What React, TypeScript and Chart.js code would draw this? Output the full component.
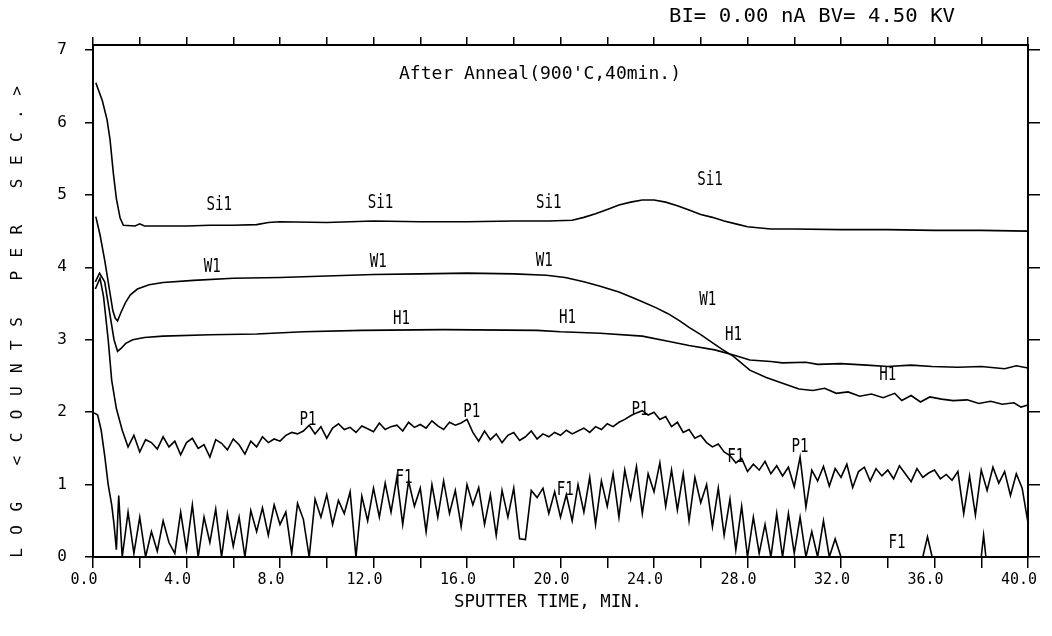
import React, { useEffect, useRef } from 'react';
import { Chart, registerables } from 'chart.js';

Chart.register(...registerables);

// ---------- data (sputter time in min, log counts per second) ----------
const siTime = [0.12, 0.4, 0.6, 0.73, 0.87, 1.0, 1.16, 1.3, 1.8, 2.0, 2.2, 3, 4, 5, 6, 7, 7.5, 8, 10, 12, 14, 16, 18, 19.5, 20.5, 21, 21.5, 22, 22.5, 23, 23.5, 24, 24.5, 25, 25.5, 26, 26.5, 27, 27.5, 28, 29, 30, 32, 34, 36, 38, 40];
const siValues = [6.55, 6.3, 6.04, 5.76, 5.3, 4.95, 4.68, 4.58, 4.57, 4.6, 4.57, 4.57, 4.57, 4.58, 4.58, 4.59, 4.62, 4.63, 4.62, 4.64, 4.63, 4.63, 4.64, 4.64, 4.65, 4.69, 4.74, 4.8, 4.86, 4.9, 4.93, 4.93, 4.9, 4.85, 4.79, 4.73, 4.69, 4.64, 4.6, 4.56, 4.53, 4.53, 4.52, 4.52, 4.51, 4.51, 4.5];

const wTime = [0.12, 0.3, 0.5, 0.7, 0.85, 0.95, 1.05, 1.2, 1.4, 1.6, 1.9, 2.4, 3, 4.3, 6, 8, 10, 12, 14, 16, 18, 19.4, 20.2, 21, 21.7, 22.5, 23.1, 23.6, 24.1, 24.6, 25.1, 25.5, 26, 26.4, 26.9, 27.4, 28.1, 28.8, 29.5, 30.2, 30.8, 31.3, 31.8, 32.3, 32.8, 33.3, 33.8, 34.3, 34.6, 35.0, 35.4, 35.8, 36.3, 36.8, 37.4, 37.9, 38.4, 38.9, 39.4, 39.7, 40];
const wValues = [4.7, 4.45, 4.1, 3.7, 3.4, 3.3, 3.26, 3.38, 3.52, 3.62, 3.7, 3.76, 3.79, 3.82, 3.85, 3.86, 3.88, 3.9, 3.91, 3.92, 3.91, 3.89, 3.86, 3.8, 3.74, 3.66, 3.58, 3.51, 3.44, 3.36, 3.26, 3.17, 3.07, 2.98, 2.87, 2.77, 2.58, 2.48, 2.4, 2.32, 2.3, 2.33, 2.26, 2.28, 2.22, 2.25, 2.2, 2.26, 2.16, 2.23, 2.14, 2.21, 2.18, 2.16, 2.17, 2.12, 2.15, 2.11, 2.13, 2.07, 2.1];

const hTime = [0.1, 0.28, 0.5, 0.7, 0.9, 1.05, 1.2, 1.4, 1.7, 2.2, 3, 5, 7, 9, 11.5, 15, 19, 20, 21.7, 23.5, 24.6, 25.5, 26.6, 27.4, 28.1, 29, 29.5, 30.5, 31, 32, 33.1, 34, 35, 35.9, 37, 38, 39, 39.5, 40];
const hValues = [3.8, 3.92, 3.8, 3.4, 3.0, 2.84, 2.88, 2.95, 3.0, 3.03, 3.05, 3.07, 3.08, 3.11, 3.13, 3.14, 3.13, 3.11, 3.09, 3.05, 2.98, 2.92, 2.86, 2.79, 2.72, 2.7, 2.68, 2.69, 2.66, 2.67, 2.65, 2.63, 2.65, 2.63, 2.62, 2.63, 2.6, 2.64, 2.61];

// P1: surface part, then a regular 0.25 min sampling from 1.25 min
const pEarlyTime = [0.1, 0.3, 0.45, 0.65, 0.8, 1.0];
const pEarlyValues = [3.7, 3.85, 3.6, 3.0, 2.44, 2.05];
const pStart = 1.25;
const pStep = 0.25;
const pValues = [
  1.75, 1.52, 1.68,
  1.45, 1.62, 1.58, 1.49,
  1.66, 1.52, 1.6, 1.41,
  1.58, 1.64, 1.5, 1.55,
  1.38, 1.62, 1.57, 1.48,
  1.63, 1.55, 1.42, 1.6,
  1.52, 1.66, 1.58, 1.63,
  1.6, 1.68, 1.72, 1.7,
  1.74, 1.82, 1.7, 1.8,
  1.64, 1.78, 1.84, 1.76,
  1.79, 1.72, 1.81, 1.77,
  1.73, 1.85, 1.76, 1.8,
  1.82, 1.74, 1.86, 1.79,
  1.83, 1.78, 1.88, 1.81,
  1.76, 1.86, 1.82, 1.85,
  1.9, 1.72, 1.6, 1.74,
  1.62, 1.7, 1.58, 1.68,
  1.72, 1.61, 1.66, 1.74,
  1.63, 1.7, 1.66, 1.72,
  1.68, 1.75, 1.7, 1.74,
  1.78, 1.72, 1.8, 1.76,
  1.84, 1.8, 1.86, 1.9,
  1.95, 1.99, 2.02, 1.96,
  2.0, 1.9, 1.94, 1.8,
  1.86, 1.72, 1.76, 1.64,
  1.68, 1.58, 1.52, 1.56,
  1.45, 1.4, 1.3, 1.36,
  1.18, 1.28, 1.2, 1.32,
  1.15, 1.26, 1.12, 1.24,
  0.97, 1.38, 0.69, 1.2,
  1.05, 1.25, 0.98, 1.22,
  1.1, 1.28, 0.96, 1.18,
  1.24, 1.05, 1.22, 1.12,
  1.2, 1.08, 1.26, 1.15,
  1.04, 1.22, 1.1, 1.16,
  1.2, 1.08, 1.14, 1.06,
  1.18, 0.6, 1.12, 0.58,
  1.2, 0.92, 1.24, 1.02,
  1.18, 0.85, 1.15, 0.95,
  0.47,
];

// F1: surface part, 0.25 min sampling from 1.25 to 32 min, then sparse tail
const fEarlyTime = [0.05, 0.2, 0.35, 0.5, 0.65, 0.8, 0.9, 1.0, 1.1];
const fEarlyValues = [1.99, 1.96, 1.75, 1.4, 1.0, 0.72, 0.45, 0.1, 0.85];
const fStart = 1.25;
const fStep = 0.25;
const fValues = [
  0.0, 0.62, 0.05,
  0.55, 0.0, 0.35, 0.08,
  0.5, 0.2, 0.05, 0.62,
  0.1, 0.72, 0.0, 0.55,
  0.2, 0.66, 0.0, 0.6,
  0.15, 0.55, 0.0, 0.64,
  0.35, 0.68, 0.3, 0.72,
  0.45, 0.62, 0.05, 0.74,
  0.52, 0.0, 0.8, 0.55,
  0.86, 0.45, 0.78, 0.6,
  0.9, 0.0, 0.84, 0.5,
  0.95, 0.55, 1.02, 0.62,
  1.1, 0.45, 1.05, 0.7,
  0.95, 0.35, 1.0, 0.55,
  1.05, 0.6, 0.92, 0.42,
  1.0, 0.72, 0.96, 0.45,
  0.86, 0.3, 0.92, 0.55,
  0.95, 0.25, 0.24, 0.92,
  0.82, 0.95, 0.6, 0.9,
  0.55, 0.86, 0.5, 1.0,
  0.62, 1.1, 0.45, 1.05,
  0.7, 1.15, 0.55, 1.2,
  0.8, 1.25, 0.6, 1.15,
  0.9, 1.3, 0.7, 1.2,
  0.65, 1.15, 0.5, 1.1,
  0.75, 1.0, 0.42, 0.95,
  0.3, 0.8, 0.1, 0.7,
  0.0, 0.55, 0.05, 0.45,
  0.0, 0.6, 0.0, 0.6,
  0.05, 0.55, 0.0, 0.35,
  0.0, 0.5, 0.0, 0.25,
  0.0,
];
const fTailTime = [35.5, 35.7, 35.9, 38.0, 38.1, 38.2, 40];
const fTailValues = [0.0, 0.28, 0.0, 0.0, 0.3, 0.0, 0.0];

const curveLabels = [
  { text: 'Si1', t: 5.4, v: 4.86 }, { text: 'Si1', t: 12.3, v: 4.89 }, { text: 'Si1', t: 19.5, v: 4.89 }, { text: 'Si1', t: 26.4, v: 5.2 },
  { text: 'W1', t: 5.1, v: 4.0 }, { text: 'W1', t: 12.2, v: 4.07 }, { text: 'W1', t: 19.3, v: 4.09 }, { text: 'W1', t: 26.3, v: 3.55 },
  { text: 'H1', t: 13.2, v: 3.28 }, { text: 'H1', t: 20.3, v: 3.3 }, { text: 'H1', t: 27.4, v: 3.07 }, { text: 'H1', t: 34.0, v: 2.51 },
  { text: 'P1', t: 9.2, v: 1.89 }, { text: 'P1', t: 16.2, v: 2.0 }, { text: 'P1', t: 23.4, v: 2.03 }, { text: 'P1', t: 30.25, v: 1.52 },
  { text: 'F1', t: 13.3, v: 1.09 }, { text: 'F1', t: 20.2, v: 0.93 }, { text: 'F1', t: 27.5, v: 1.38 }, { text: 'F1', t: 34.4, v: 0.19 },
];

const headerText = 'BI= 0.00 nA BV= 4.50 KV';
const noteText = "After Anneal(900'C,40min.)";
const xTitle = 'SPUTTER TIME, MIN.';
const yTitle = 'LOG <COUNTS PER SEC.>';

const FONT = "'DejaVu Sans Mono', 'Liberation Mono', monospace";

function pairs(times: number[], values: number[]) {
  return values.map((v, i) => ({ x: times[i], y: v }));
}
function gridPairs(start: number, step: number, values: number[]) {
  return values.map((v, i) => ({ x: start + i * step, y: v }));
}

function drawFitted(ctx: CanvasRenderingContext2D, text: string, cx: number, cy: number, width: number, size: number) {
  ctx.save();
  ctx.font = `${size}px ${FONT}`;
  const w = ctx.measureText(text).width;
  ctx.translate(cx, cy);
  ctx.scale(width / w, 1);
  ctx.textAlign = 'center';
  ctx.textBaseline = 'middle';
  ctx.fillStyle = '#000';
  ctx.fillText(text, 0, 0);
  ctx.restore();
}

const textPlugin = {
  id: 'plotterText',
  afterDraw(chart: any) {
    const ctx = chart.ctx as CanvasRenderingContext2D;
    const xs = chart.scales.x;
    const ys = chart.scales.y;
    drawFitted(ctx, headerText, 812, 17, 286, 20);
    drawFitted(ctx, noteText, 540, 74, 282, 18);
    drawFitted(ctx, xTitle, 548, 603, 188, 17);
    // rotated y title with wide letter spacing
    ctx.save();
    ctx.translate(18, 322);
    ctx.rotate(-Math.PI / 2);
    ctx.font = `16px ${FONT}`;
    ctx.textAlign = 'center';
    ctx.textBaseline = 'middle';
    ctx.fillStyle = '#000';
    const len = 462;
    const n = yTitle.length;
    for (let i = 0; i < n; i++) {
      const px = -len / 2 + (len * i) / (n - 1);
      ctx.fillText(yTitle[i], px, 0);
    }
    ctx.restore();
    for (const l of curveLabels) {
      const px = xs.getPixelForValue(l.t);
      const py = ys.getPixelForValue(l.v);
      drawFitted(ctx, l.text, px, py, l.text.length * 8.5, 19);
    }
  },
};

export default function App() {
  const ref = useRef<HTMLCanvasElement | null>(null);
  useEffect(() => {
    if (!ref.current) return;
    const lineStyle = { borderColor: '#000', borderWidth: 1.6, pointRadius: 0, showLine: true, tension: 0, fill: false };
    const chart = new Chart(ref.current, {
      type: 'scatter',
      data: {
        datasets: [
          { label: 'Si1', data: pairs(siTime, siValues), ...lineStyle },
          { label: 'W1', data: pairs(wTime, wValues), ...lineStyle },
          { label: 'H1', data: pairs(hTime, hValues), ...lineStyle },
          { label: 'P1', data: [...pairs(pEarlyTime, pEarlyValues), ...gridPairs(pStart, pStep, pValues)], ...lineStyle },
          { label: 'F1', data: [...pairs(fEarlyTime, fEarlyValues), ...gridPairs(fStart, fStep, fValues), ...pairs(fTailTime, fTailValues)], ...lineStyle },
        ],
      },
      options: {
        animation: false,
        responsive: false,
        devicePixelRatio: 1,
        events: [],
        layout: { padding: 0 },
        plugins: { legend: { display: false }, tooltip: { enabled: false } },
        scales: {
          x: {
            type: 'linear', position: 'bottom', min: 0, max: 40,
            afterFit: (s: any) => { s.height = 79; },
            ticks: {
              stepSize: 2, color: '#000', padding: 3, labelOffset: -9, maxRotation: 0, autoSkip: false,
              font: { family: FONT, size: 15 },
              callback: (v: any) => (Number(v) % 4 === 0 ? Number(v).toFixed(1) : ''),
            },
            grid: { drawOnChartArea: false, drawTicks: true, tickLength: 11, color: '#000', lineWidth: 1.5 },
            border: { display: true, color: '#000', width: 2 },
          },
          x2: {
            type: 'linear', position: 'top', min: 0, max: 40,
            afterFit: (s: any) => { s.height = 45; },
            ticks: { stepSize: 2, autoSkip: false, callback: () => '', font: { size: 1 } },
            grid: { drawOnChartArea: false, drawTicks: true, tickLength: 8, color: '#000', lineWidth: 1.5 },
            border: { display: true, color: '#000', width: 2 },
          },
          y: {
            type: 'linear', position: 'left', min: 0, max: 7.07,
            afterFit: (s: any) => { s.width = 93; },
            ticks: {
              stepSize: 1, includeBounds: false, color: '#000', padding: 18,
              font: { family: FONT, size: 16 },
              callback: (v: any) => String(v),
            },
            grid: { drawOnChartArea: false, drawTicks: true, tickLength: 8, color: '#000', lineWidth: 1.5 },
            border: { display: true, color: '#000', width: 2 },
          },
          y2: {
            type: 'linear', position: 'right', min: 0, max: 7.07,
            afterFit: (s: any) => { s.width = 24; },
            ticks: { stepSize: 1, includeBounds: false, callback: () => '', font: { size: 1 } },
            grid: { drawOnChartArea: false, drawTicks: true, tickLength: 12, color: '#000', lineWidth: 1.5 },
            border: { display: true, color: '#000', width: 2 },
          },
        },
      },
      plugins: [textPlugin],
    } as any);
    return () => chart.destroy();
  }, []);
  return (
    <div style={{ position: 'absolute', left: 0, top: 0, width: 1052, height: 636, background: '#fff' }}>
      <canvas ref={ref} width={1052} height={636} style={{ display: 'block' }} />
    </div>
  );
}
